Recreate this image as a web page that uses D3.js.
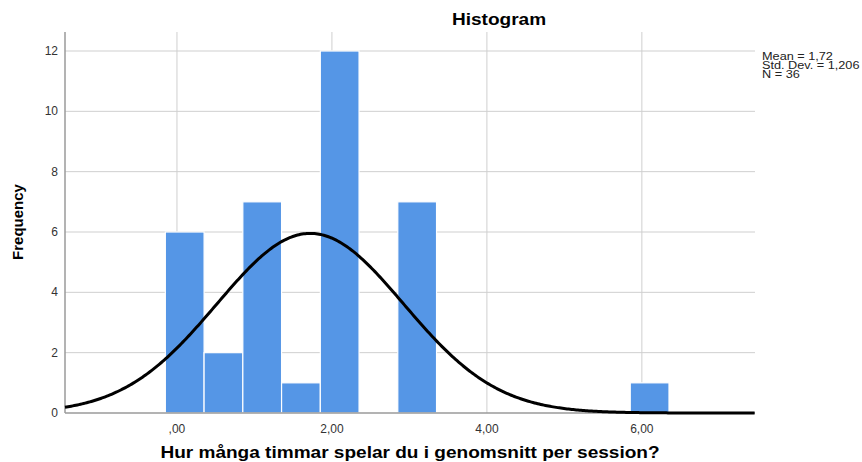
<!DOCTYPE html>
<html>
<head>
<meta charset="utf-8">
<script src="https://cdn.jsdelivr.net/npm/d3@7"></script>
<style>
  body { margin: 0; background: #fff; }
  text { font-family: "Liberation Sans", Arial, sans-serif; }
</style>
</head>
<body>
<div class="histo"></div>
<script>
// Bins (lower edge) and counts, bin width 0.5
const binStarts = [-0.15, 0.35, 0.85, 1.35, 1.85, 2.85, 5.85];
const binCounts = [6, 2, 7, 1, 12, 7, 1];
const binWidth = 0.5;
const xTicks = [0, 2, 4, 6];
const yTicks = [0, 2, 4, 6, 8, 10, 12];
const stats = { mean: 1.72, sd: 1.206, n: 36 };
const statLines = ["Mean = 1,72", "Std. Dev. = 1,206", "N = 36"];

const width = 862, height = 462;
const margin = { top: 32, right: 107, bottom: 49, left: 65 };
const innerW = width - margin.left - margin.right;
const innerH = height - margin.top - margin.bottom;

const svg = d3.select(".histo")
    .append("svg")
    .attr("width", width)
    .attr("height", height);

const g = svg.append("g")
    .attr("transform", "translate(" + margin.left + "," + margin.top + ")");

const x = d3.scaleLinear()
    .domain([-1.445, 7.46])
    .range([0, innerW]);
const y = d3.scaleLinear()
    .domain([0, 12.63])
    .range([innerH, 0]);

// Grid lines
g.selectAll(".hgrid")
    .data(yTicks.slice(1))
    .join("line")
    .attr("x1", 0).attr("x2", innerW)
    .attr("y1", d => y(d)).attr("y2", d => y(d))
    .attr("stroke", "#cfcfcf").attr("stroke-width", 1);
g.selectAll(".vgrid")
    .data(xTicks)
    .join("line")
    .attr("x1", d => x(d)).attr("x2", d => x(d))
    .attr("y1", 0).attr("y2", innerH)
    .attr("stroke", "#cfcfcf").attr("stroke-width", 1);

// Bars
g.selectAll("rect")
    .data(binStarts)
    .join("rect")
    .attr("x", d => x(d))
    .attr("width", x(binWidth) - x(0))
    .attr("y", (d, i) => y(binCounts[i]))
    .attr("height", (d, i) => y(0) - y(binCounts[i]))
    .attr("fill", "#5596e6")
    .attr("stroke", "#ffffff")
    .attr("stroke-width", 1.2);

// Axis lines
g.append("line")
    .attr("x1", 0).attr("x2", 0).attr("y1", 0).attr("y2", innerH)
    .attr("stroke", "#9a9a9a").attr("stroke-width", 1.5);
g.append("line")
    .attr("x1", 0).attr("x2", innerW).attr("y1", innerH).attr("y2", innerH)
    .attr("stroke", "#9a9a9a").attr("stroke-width", 1.5);

// Normal curve fitted from the stated mean / std. dev. / N
const curveXs = d3.range(x.domain()[0], x.domain()[1] + 0.001, 0.02);
const pdf = v => stats.n * binWidth / (stats.sd * Math.sqrt(2 * Math.PI)) *
    Math.exp(-0.5 * Math.pow((v - stats.mean) / stats.sd, 2));
g.append("path")
    .datum(curveXs)
    .attr("d", d3.line().x(d => x(d)).y(d => y(pdf(d))))
    .attr("fill", "none")
    .attr("stroke", "#000")
    .attr("stroke-width", 3);

// Tick labels
g.selectAll(".ylab")
    .data(yTicks)
    .join("text")
    .attr("x", -7)
    .attr("y", d => y(d) + 4)
    .attr("text-anchor", "end")
    .style("font-size", "12px")
    .style("fill", "#333")
    .text(d => d);
g.selectAll(".xlab")
    .data(xTicks)
    .join("text")
    .attr("x", d => x(d))
    .attr("y", innerH + 20)
    .attr("text-anchor", "middle")
    .style("font-size", "12px")
    .style("fill", "#333")
    .text(d => d3.format(".2f")(d).replace(".", ",").replace(/^0/, ""));

// Titles (the reference font is a bit wider, so stretch horizontally)
svg.append("text")
    .attr("transform", "translate(499,25) scale(1.19,1)")
    .attr("text-anchor", "middle")
    .style("font-size", "16px").style("font-weight", "bold")
    .text("Histogram");
svg.append("text")
    .attr("transform", "translate(410,458) scale(1.19,1)")
    .attr("text-anchor", "middle")
    .style("font-size", "16px").style("font-weight", "bold")
    .text("Hur många timmar spelar du i genomsnitt per session?");
svg.append("text")
    .attr("transform", "rotate(-90)")
    .attr("x", -222).attr("y", 23)
    .attr("text-anchor", "middle")
    .style("font-size", "15px").style("font-weight", "bold")
    .text("Frequency");

// Stats box
const statBox = svg.append("g")
    .attr("transform", "translate(762,0) scale(1.27,1)");
statBox.selectAll(".stat")
    .data(statLines)
    .join("text")
    .attr("x", 0)
    .attr("y", (d, i) => 60 + i * 9)
    .style("font-size", "10px")
    .style("fill", "#222")
    .text(d => d);
</script>
</body>
</html>
